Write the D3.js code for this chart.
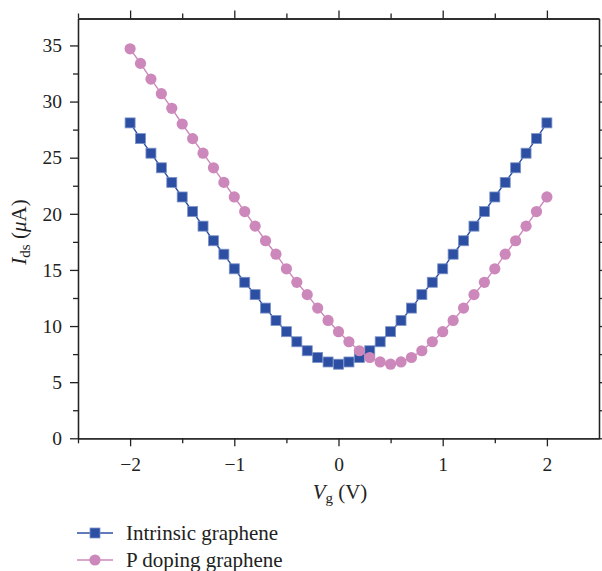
<!DOCTYPE html>
<html lang="en">
<head>
<meta charset="UTF-8">
<title>Ids vs Vg</title>
<script src="https://d3js.org/d3.v7.min.js"></script>
<style>
body { margin: 0; background: #fff; }
svg text { font-family: "Liberation Serif", "DejaVu Serif", serif; fill: #222; }
</style>
</head>
<body>
<svg width="602" height="571"></svg>
<script>
// gate voltage (V)
var vg = [-2.0, -1.9, -1.8, -1.7, -1.6, -1.5, -1.4, -1.3, -1.2, -1.1, -1.0,
          -0.9, -0.8, -0.7, -0.6, -0.5, -0.4, -0.3, -0.2, -0.1, 0.0,
          0.1, 0.2, 0.3, 0.4, 0.5, 0.6, 0.7, 0.8, 0.9, 1.0,
          1.1, 1.2, 1.3, 1.4, 1.5, 1.6, 1.7, 1.8, 1.9, 2.0];
// drain current (uA)
var intrinsic = [28.1, 26.7, 25.4, 24.1, 22.8, 21.5, 20.2, 18.9, 17.6, 16.4, 15.1,
                 13.9, 12.8, 11.6, 10.5, 9.5, 8.6, 7.8, 7.2, 6.8, 6.6,
                 6.8, 7.2, 7.8, 8.6, 9.5, 10.5, 11.6, 12.8, 13.9, 15.1,
                 16.4, 17.6, 18.9, 20.2, 21.5, 22.8, 24.1, 25.4, 26.7, 28.1];
var pDoping = [34.7, 33.4, 32.0, 30.7, 29.4, 28.0, 26.7, 25.4, 24.1, 22.8, 21.5,
               20.2, 18.9, 17.6, 16.4, 15.1, 13.9, 12.8, 11.6, 10.5, 9.5,
               8.6, 7.8, 7.2, 6.8, 6.6, 6.8, 7.2, 7.8, 8.6, 9.5,
               10.5, 11.6, 12.8, 13.9, 15.1, 16.4, 17.6, 18.9, 20.2, 21.5];
var xTicks = [-2, -1, 0, 1, 2];
var xMinor = [-2.5, -1.5, -0.5, 0.5, 1.5];
var yTicks = [0, 5, 10, 15, 20, 25, 30, 35];
var yMinor = [2.5, 7.5, 12.5, 17.5, 22.5, 27.5, 32.5];

var svg = d3.select('svg');
var padL = 78, padR = 599, padT = 18.5, padB = 438.3;

var x = d3.scaleLinear().domain([-2.5, 2.5]).range([padL, padR]);
var y = d3.scaleLinear().domain([0, 37.4]).range([padB, padT]);

var fmt = function(d) { return d < 0 ? '\u2212' + Math.abs(d) : '' + d; };

function drawAxis(g, axis) {
    g.call(axis);
    g.select('.domain').attr('stroke', '#222').attr('stroke-width', 1.3);
    g.selectAll('.tick line').attr('stroke', '#222').attr('stroke-width', 1.3);
    g.selectAll('.tick text').attr('font-size', 19.5).attr('fill', '#222')
        .attr('font-family', '"Liberation Serif", serif');
}

// bottom
svg.append('g').attr('transform', 'translate(0,' + padB + ')')
    .call(function(g) { drawAxis(g, d3.axisBottom(x).tickValues(xTicks).tickSize(8).tickPadding(11).tickSizeOuter(0).tickFormat(fmt)); });
svg.append('g').attr('transform', 'translate(0,' + padB + ')')
    .call(function(g) { drawAxis(g, d3.axisBottom(x).tickValues(xMinor).tickSize(5).tickSizeOuter(0).tickFormat('')); });
// top
svg.append('g').attr('transform', 'translate(0,' + padT + ')')
    .call(function(g) { drawAxis(g, d3.axisTop(x).tickValues(xTicks).tickSize(8).tickSizeOuter(0).tickFormat('')); });
svg.append('g').attr('transform', 'translate(0,' + padT + ')')
    .call(function(g) { drawAxis(g, d3.axisTop(x).tickValues(xMinor).tickSize(5).tickSizeOuter(0).tickFormat('')); });
// left
svg.append('g').attr('transform', 'translate(' + padL + ',0)')
    .call(function(g) { drawAxis(g, d3.axisLeft(y).tickValues(yTicks).tickSize(8).tickPadding(8).tickSizeOuter(0).tickFormat(fmt)); });
svg.append('g').attr('transform', 'translate(' + padL + ',0)')
    .call(function(g) { drawAxis(g, d3.axisLeft(y).tickValues(yMinor).tickSize(5).tickSizeOuter(0).tickFormat('')); });
// right
svg.append('g').attr('transform', 'translate(' + padR + ',0)')
    .call(function(g) { drawAxis(g, d3.axisRight(y).tickValues(yTicks).tickSize(8).tickSizeOuter(0).tickFormat('')); });
svg.append('g').attr('transform', 'translate(' + padR + ',0)')
    .call(function(g) { drawAxis(g, d3.axisRight(y).tickValues(yMinor).tickSize(5).tickSizeOuter(0).tickFormat('')); });

var blue = '#2c4fa3', pink = '#cc88bb';
var series = [
    { name: 'Intrinsic graphene', values: intrinsic, color: blue, shape: 'square' },
    { name: 'P doping graphene', values: pDoping, color: pink, shape: 'circle' }
];

var line = d3.line().x(function(d) { return x(d[0]); }).y(function(d) { return y(d[1]); });

function drawMarker(g, shape, color, cx, cy) {
    if (shape === 'square') {
        g.append('rect').attr('x', cx - 5).attr('y', cy - 5).attr('width', 10).attr('height', 10)
            .attr('fill', color).attr('stroke', '#7d93c8').attr('stroke-width', 0.8);
    } else {
        g.append('circle').attr('cx', cx).attr('cy', cy).attr('r', 5.6).attr('fill', color);
    }
}

series.forEach(function(s) {
    var pts = vg.map(function(v, i) { return [v, s.values[i]]; });
    svg.append('path').datum(pts).attr('d', line)
        .attr('fill', 'none').attr('stroke', s.color).attr('stroke-width', 1.4);
    var g = svg.append('g');
    pts.forEach(function(p) { drawMarker(g, s.shape, s.color, x(p[0]), y(p[1])); });
});

// axis titles
var xt = svg.append('text').attr('x', 340).attr('y', 499).attr('text-anchor', 'middle').attr('font-size', 21);
xt.append('tspan').attr('font-style', 'italic').text('V');
xt.append('tspan').attr('font-size', 15).attr('dy', 4).text('g');
xt.append('tspan').attr('dy', -4).text(' (V)');

var yt = svg.append('text').attr('transform', 'translate(26,232) rotate(-90)')
    .attr('text-anchor', 'middle').attr('font-size', 21);
yt.append('tspan').attr('font-style', 'italic').text('I');
yt.append('tspan').attr('font-size', 15).attr('dy', 4).text('ds');
yt.append('tspan').attr('dy', -4).text(' (');
yt.append('tspan').attr('font-style', 'italic').text('\u03bc');
yt.append('tspan').text('A)');

// legend
series.forEach(function(s, i) {
    var ly = 533 + i * 27;
    var g = svg.append('g');
    g.append('line').attr('x1', 77).attr('x2', 113).attr('y1', ly).attr('y2', ly)
        .attr('stroke', s.color).attr('stroke-width', 1.4);
    drawMarker(g, s.shape, s.color, 95, ly);
    g.append('text').attr('x', 126).attr('y', ly + 7).attr('font-size', 21).text(s.name);
});
</script>
</body>
</html>
